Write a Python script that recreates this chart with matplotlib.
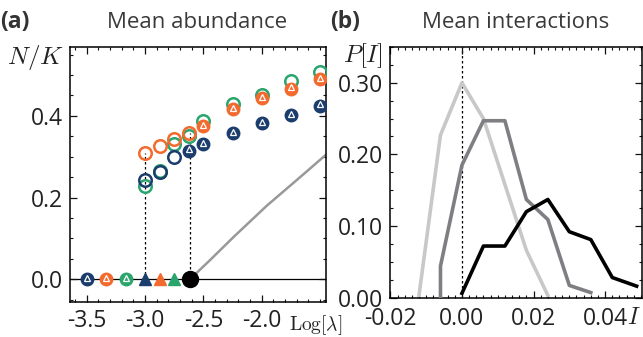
import matplotlib
matplotlib.use("Agg")
import matplotlib.pyplot as plt
from matplotlib.ticker import MultipleLocator, FixedLocator

plt.rcParams['font.family'] = ['Open Sans', 'DejaVu Sans']
plt.rcParams['mathtext.fontset'] = 'cm'
plt.rcParams['axes.unicode_minus'] = False

# ---------------- data: panel (a) ----------------
BLUE, ORANGE, GREEN = '#1b3d6d', '#f26a2e', '#2aa56e'

low_circle_x = [-3.5, -3.333, -3.167]        # blue, orange, green circles at N/K = 0
low_tri_x = [-3.0, -2.875, -2.75]            # blue, orange, green triangles at N/K = 0
crit_x = -2.615                              # black critical point

x_up = [-3.0, -2.875, -2.75, -2.625, -2.5, -2.25, -2.0, -1.75, -1.5]
blue_up = [0.243, 0.263, 0.300, 0.315, 0.331, 0.357, 0.383, 0.402, 0.425]
orange_up = [0.310, 0.327, 0.343, 0.359, 0.375, 0.417, 0.444, 0.467, 0.490]
green_up = [0.229, 0.265, 0.331, 0.351, 0.387, 0.429, 0.451, 0.485, 0.507]
blue_n_open = 3
orange_n_open = 4

curve_x = [-2.615, -2.45, -2.243, -1.957, -1.671, -1.449]
curve_y = [0.0, 0.045, 0.103, 0.180, 0.250, 0.305]

# ---------------- data: panel (b) ----------------
light_x = [-0.012, -0.006, 0.0, 0.006, 0.012, 0.018, 0.024]
light_y = [0.003, 0.227, 0.300, 0.250, 0.158, 0.066, 0.003]
mid_x = [-0.006, -0.006, 0.0, 0.006, 0.012, 0.018, 0.024, 0.030, 0.036]
mid_y = [0.001, 0.044, 0.185, 0.247, 0.247, 0.137, 0.109, 0.017, 0.007]
dark_x = [0.0, 0.006, 0.012, 0.018, 0.024, 0.030, 0.036, 0.042, 0.0488]
dark_y = [0.006, 0.072, 0.072, 0.120, 0.137, 0.092, 0.081, 0.028, 0.016]

W, H = 643, 337
fig = plt.figure(figsize=(W / 100, H / 100), dpi=100)

def rect(l, r, b, t):
    return [l / W, 1 - b / H, (r - l) / W, (b - t) / H]

axa = fig.add_axes(rect(70, 326, 302, 47))
axb = fig.add_axes(rect(390, 642, 298.3, 47))

TXT = '#222222'
for ax in (axa, axb):
    ax.tick_params(which='both', direction='in', top=True, right=True,
                   labelsize=16.5, colors='#111111', labelcolor=TXT)
    ax.tick_params(which='major', length=5, width=0.9, pad=5)
    ax.tick_params(which='minor', length=2.5, width=0.8)
    for s in ax.spines.values():
        s.set_linewidth(1.1)
axb.tick_params(axis='x', which='major', pad=6.5)

# ---- panel (a) ----
axa.axhline(0, color='black', lw=0.9, zorder=1)
axa.vlines([x_up[0], crit_x], 0, [orange_up[0], orange_up[3]],
           colors='black', linestyles=(0, (2, 2)), lw=0.9, zorder=1)
axa.plot(curve_x, curve_y, color='#999999', lw=1.8, zorder=2)

ms, mew = 9.0, 1.8
tri_kw = dict(ms=4.5, mec='white', mew=0.9, zorder=5)
cols = [BLUE, ORANGE, GREEN]
for xx, c in zip(low_circle_x, cols):
    axa.plot(xx, 0, 'o', ms=ms, color=c, zorder=4)
    axa.plot(xx, 0.003, '^', mfc=c, **tri_kw)
for xx, c in zip(low_tri_x, cols):
    axa.plot(xx, 0, '^', ms=8.5, color=c, zorder=4)
axa.plot(crit_x, 0, 'o', ms=11.5, color='black', zorder=6)

def upper(yv, c, n_open, all_open=False):
    for i, (xx, yy) in enumerate(zip(x_up, yv)):
        if all_open or i < n_open:
            axa.plot(xx, yy, 'o', ms=ms, mfc='none', mec=c, mew=mew, zorder=4)
        else:
            axa.plot(xx, yy, 'o', ms=ms, color=c, zorder=4)
            axa.plot(xx, yy + 0.003, '^', mfc=c, **tri_kw)

upper(green_up, GREEN, 0, all_open=True)
upper(orange_up, ORANGE, orange_n_open)
upper(blue_up, BLUE, blue_n_open)

axa.set_xlim(-3.643, -1.449)
axa.set_ylim(-0.0556, 0.5687)
axa.xaxis.set_major_locator(FixedLocator([-3.5, -3.0, -2.5, -2.0]))
axa.xaxis.set_minor_locator(MultipleLocator(0.1))
axa.set_xticklabels(['-3.5', '-3.0', '-2.5', '-2.0'])
axa.yaxis.set_major_locator(FixedLocator([0.0, 0.2, 0.4]))
axa.yaxis.set_minor_locator(MultipleLocator(0.05))
axa.set_yticklabels(['0.0', '0.2', '0.4'])

# ---- panel (b) ----
axb.axvline(0, color='black', lw=0.9, linestyle=(0, (2, 2)), zorder=1)
axb.plot(light_x, light_y, color='#c8c8c8', lw=2.6, zorder=2)
axb.plot(mid_x, mid_y, color='#7f7f83', lw=2.6, zorder=3)
axb.plot(dark_x, dark_y, color='black', lw=2.6, zorder=4)
axb.set_xlim(-0.0201, 0.0503)
axb.set_ylim(-0.001, 0.35)
axb.xaxis.set_major_locator(FixedLocator([-0.02, 0.0, 0.02, 0.04]))
axb.xaxis.set_minor_locator(MultipleLocator(0.002))
axb.set_xticklabels(['-0.02', '0.00', '0.02', '0.04'])
axb.yaxis.set_major_locator(FixedLocator([0.0, 0.1, 0.2, 0.3]))
axb.yaxis.set_minor_locator(MultipleLocator(0.025))
axb.set_yticklabels(['0.00', '0.10', '0.20', '0.30'])

# ---- texts ----
fig.text(0 / W, 1 - 22 / H, '(a)', fontsize=16.5, fontweight='bold', color='#333333',
         ha='left', va='center')
fig.text(197 / W, 1 - 22 / H, 'Mean abundance', fontsize=16, color='#3a3a3a',
         ha='center', va='center')
fig.text(330 / W, 1 - 22 / H, '(b)', fontsize=16.5, fontweight='bold', color='#333333',
         ha='left', va='center')
fig.text(516 / W, 1 - 22 / H, 'Mean interactions', fontsize=16, color='#3a3a3a',
         ha='center', va='center')
fig.text(64 / W, 1 - 58 / H, r'$N/K$', fontsize=18, color=TXT, ha='right', va='center')
fig.text(383 / W, 1 - 56 / H, r'$P[I]$', fontsize=18, color=TXT, ha='right', va='center')
fig.text(289 / W, 1 - 325 / H, r'$\mathrm{Log}[\lambda]$', fontsize=14, color=TXT,
         ha='left', va='center')
fig.text(634 / W, 1 - 318 / H, r'$I$', fontsize=17, color=TXT, ha='center', va='center')

fig.savefig('out.png', dpi=100)
